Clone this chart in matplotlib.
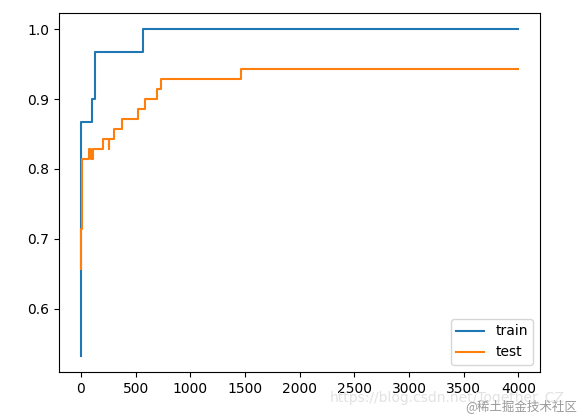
import matplotlib.pyplot as plt

# accuracy curves, stored as change points (iteration, value)
train_iter = [0, 1, 3, 103, 131, 569, 4000]
train_acc = [0.533, 0.6, 0.867, 0.9, 0.967, 1.0, 1.0]

test_iter = [0, 3, 6, 9, 12, 76, 91, 112, 204, 256, 260, 304, 380, 518, 588, 700, 731, 1465, 4000]
test_acc = [0.657, 0.714, 0.757, 0.786, 0.814, 0.829, 0.814, 0.829, 0.843, 0.829, 0.843,
            0.857, 0.871, 0.886, 0.9, 0.914, 0.929, 0.943, 0.943]

fig = plt.figure(figsize=(5.79, 4.16), dpi=100)
ax = fig.add_axes([0.102, 0.106, 0.831, 0.863])
ax.step(train_iter, train_acc, where='post', label='train')
ax.step(test_iter, test_acc, where='post', label='test')
ax.set_xticks(range(0, 4001, 500))
ax.legend(loc='lower right')

# watermark from the source page
fig.text(0.570, 0.043, 'https://blog.csdn.net/Together_CZ', color='#e2e2e2', fontsize=10,
         va='center')
fig.text(0.803, 0.024, '@稀土掘金技术社区', color='#999999', fontsize=9, va='center',
         family=['Noto Sans CJK SC', 'DejaVu Sans'])

fig.savefig('out.png')
